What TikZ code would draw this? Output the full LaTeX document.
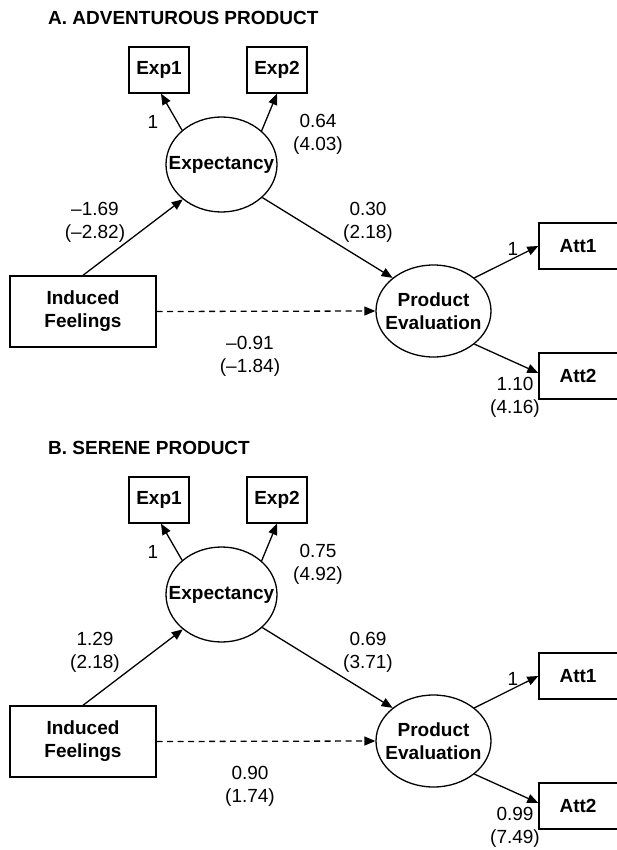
\documentclass[tikz,border=0pt]{standalone}
\usepackage{fontspec}
\setmainfont{Liberation Sans}
\usetikzlibrary{shapes.geometric,arrows.meta}
\newcommand\fs{\fontsize{19}{23}\selectfont}
\tikzset{
  obs/.style={draw,line width=1.4pt,minimum width=60pt,minimum height=46pt,inner sep=0pt,font=\fs\bfseries,align=center},
  lat/.style={draw,ellipse,line width=1.3pt,inner sep=0pt},
  txt/.style={align=center,inner sep=0pt,font=\fs\bfseries},
  lbl/.style={align=center,inner sep=0pt,font=\fs},
  ttl/.style={anchor=west,inner sep=0pt,font=\fs\bfseries},
  conn/.style={line width=1.3pt,-{Triangle[length=11pt,width=9pt]}},
  dconn/.style={conn,dash pattern=on 6pt off 4.5pt}
}
\newcommand\SEMpanel[8]{%
\begin{scope}[shift={(0,#2)}]
  \node[ttl] (#1ttl) at (48,18) {#3};
  \node[obs] (#1exp1) at (159,70) {Exp1};
  \node[obs] (#1exp2) at (277,70) {Exp2};
  \node[lat,minimum width=111pt,minimum height=95pt] (#1exp) at (221.5,164.5) {};
  \node[txt] (#1expt) at (#1exp.center) {Expectancy};
  \node[obs,minimum width=146pt,minimum height=71pt] (#1ind) at (83,311.5) {Induced\\Feelings};
  \node[lat,minimum width=115pt,minimum height=92pt] (#1pe) at (433.5,311) {};
  \node[txt] (#1pet) at (#1pe.center) {Product\\Evaluation};
  \node[obs,minimum width=91pt] (#1att1) at (584.5,246) {\hspace*{-13pt}Att1};
  \node[obs,minimum width=91pt] (#1att2) at (584.5,376) {\hspace*{-13pt}Att2};
  \draw[conn] (#1exp.139) -- ([xshift=2pt]#1exp1.south);
  \draw[conn] (#1exp.40) -- (#1exp2.south);
  \draw[conn] (#1ind.north) -- (#1exp.222);
  \draw[conn] (#1exp.-39) -- (#1pe.141);
  \draw[dconn] (#1ind.east) -- (#1pe.west);
  \draw[conn] (#1pe.39) -- (#1att1.west);
  \draw[conn] (#1pe.-39) -- ([yshift=3pt]#1att2.west);
  \node[lbl] (#1l1) at (153,122) {1};
  \node[lbl] (#1l2) at (318,134.5) {#4};
  \node[lbl] (#1l3) at (95,222.5) {#5};
  \node[lbl] (#1l4) at (368,222.5) {#6};
  \node[lbl] (#1l5) at (250,356.5) {#7};
  \node[lbl] (#1l6) at (513,249) {1};
  \node[lbl] (#1l7) at (515,397.5) {#8};
\end{scope}}
\begin{document}
\begin{tikzpicture}[x=1pt,y=-1pt]
\useasboundingbox (0,0) rectangle (616,850);
\SEMpanel{A}{0}{A. ADVENTUROUS PRODUCT}{0.64\\(4.03)}{–1.69\\(–2.82)}{0.30\\(2.18)}{–0.91\\(–1.84)}{1.10\\(4.16)}
\SEMpanel{B}{430}{B. SERENE PRODUCT}{0.75\\(4.92)}{1.29\\(2.18)}{0.69\\(3.71)}{0.90\\(1.74)}{0.99\\(7.49)}
\end{tikzpicture}
\end{document}
